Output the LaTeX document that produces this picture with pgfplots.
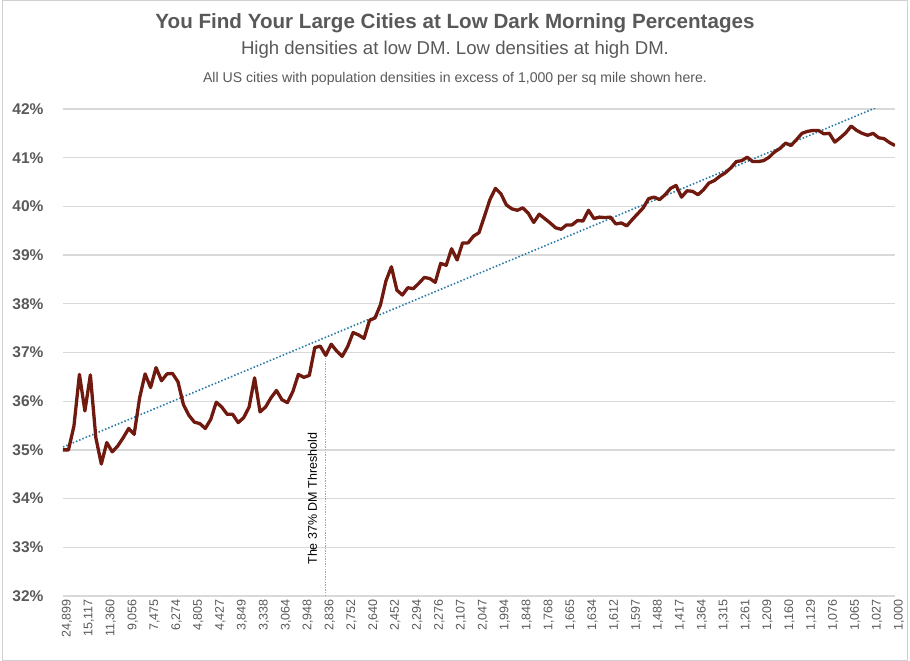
\documentclass[border=0pt]{standalone}
\usepackage{fontspec}
\setmainfont{Liberation Sans}
\usepackage{pgfplots}
\usepackage{pgfplotstable}
\pgfplotsset{compat=1.18}

\definecolor{txtgray}{HTML}{595959}
\definecolor{gridgray}{HTML}{D9D9D9}
\definecolor{dmred}{HTML}{70190F}
\definecolor{trendblue}{HTML}{2A7AA6}
\definecolor{framegray}{HTML}{D0D0D0}
\definecolor{threshgray}{HTML}{A6A6A6}

% dark-morning share by city density rank (densest first)
\pgfplotstableread{
idx val
0 35.00
1 35.00
2 35.49
3 36.55
4 35.80
5 36.54
6 35.25
7 34.71
8 35.15
9 34.96
10 35.08
11 35.25
12 35.44
13 35.32
14 36.07
15 36.56
16 36.28
17 36.69
18 36.42
19 36.56
20 36.57
21 36.40
22 35.93
23 35.71
24 35.57
25 35.54
26 35.44
27 35.63
28 35.98
29 35.88
30 35.73
31 35.73
32 35.56
33 35.66
34 35.88
35 36.48
36 35.78
37 35.88
38 36.07
39 36.22
40 36.03
41 35.97
42 36.20
43 36.55
44 36.49
45 36.53
46 37.10
47 37.13
48 36.94
49 37.17
50 37.03
51 36.92
52 37.12
53 37.41
54 37.36
55 37.29
56 37.66
57 37.71
58 37.98
59 38.47
60 38.76
61 38.28
62 38.18
63 38.33
64 38.31
65 38.42
66 38.54
67 38.52
68 38.44
69 38.83
70 38.79
71 39.13
72 38.90
73 39.25
74 39.25
75 39.39
76 39.46
77 39.80
78 40.14
79 40.37
80 40.26
81 40.03
82 39.95
83 39.92
84 39.97
85 39.86
86 39.67
87 39.84
88 39.75
89 39.66
90 39.56
91 39.53
92 39.62
93 39.62
94 39.71
95 39.70
96 39.92
97 39.75
98 39.78
99 39.77
100 39.78
101 39.64
102 39.66
103 39.60
104 39.73
105 39.85
106 39.97
107 40.16
108 40.19
109 40.14
110 40.24
111 40.37
112 40.43
113 40.19
114 40.32
115 40.31
116 40.24
117 40.34
118 40.48
119 40.53
120 40.62
121 40.69
122 40.79
123 40.92
124 40.94
125 41.01
126 40.92
127 40.92
128 40.94
129 41.01
130 41.12
131 41.19
132 41.30
133 41.25
134 41.37
135 41.50
136 41.54
137 41.56
138 41.56
139 41.49
140 41.50
141 41.32
142 41.41
143 41.51
144 41.65
145 41.56
146 41.50
147 41.46
148 41.50
149 41.41
150 41.39
151 41.31
152 41.25
}\dmdata

\begin{document}
\begin{tikzpicture}
\useasboundingbox (0pt,0pt) rectangle (910pt,661pt);
\draw[framegray, line width=1pt] (2.5pt,0.5pt) rectangle (907pt,660pt);

\node[text=txtgray, font=\bfseries\fontsize{20.6}{24}\selectfont] at (455pt,638pt)
  {You Find Your Large Cities at Low Dark Morning Percentages};
\node[text=txtgray, font=\fontsize{18.6}{22}\selectfont] at (455pt,611pt)
  {High densities at low DM. Low densities at high DM.};
\node[text=txtgray, font=\fontsize{14.1}{17}\selectfont] at (455pt,582pt)
  {All US cities with population densities in excess of 1,000 per sq mile shown here.};

\begin{axis}[
  at={(63pt,65pt)}, anchor=south west,
  scale only axis, width=832pt, height=487pt,
  xmin=0, xmax=152, ymin=32, ymax=42,
  axis line style={draw=none},
  major tick style={draw=none},
  ytick={32,33,...,42},
  ymajorgrids=true,
  grid style={gridgray, line width=1.3pt},
  /pgf/number format/assume math mode=true,
  yticklabel={\pgfmathprintnumber{\tick}\%},
  yticklabel style={text=txtgray, font=\bfseries\fontsize{15.5}{18}\selectfont, xshift=-16pt},
  xtick={0,4,...,152},
  xticklabels={{24,899},{15,117},{11,360},{9,056},{7,475},{6,274},{4,805},{4,427},{3,849},{3,338},{3,064},{2,948},{2,836},{2,752},{2,640},{2,452},{2,294},{2,276},{2,107},{2,047},{1,994},{1,848},{1,768},{1,665},{1,634},{1,612},{1,597},{1,488},{1,417},{1,364},{1,315},{1,261},{1,209},{1,160},{1,129},{1,076},{1,065},{1,027},{1,000}},
  xticklabel style={text=txtgray, font=\fontsize{12.5}{14}\selectfont, rotate=90, anchor=east, yshift=-4pt},
]
% threshold drop line
\addplot[threshgray, line width=1.3pt, dash pattern=on 1.3pt off 1.3pt] coordinates {(48,32) (48,36.94)};
\node[text=black, font=\fontsize{12.5}{14}\selectfont, rotate=90, anchor=south west, inner sep=1pt]
  at (axis cs:46.6,32.62) {The 37\% DM Threshold};
% linear trendline (R^2 = 0.9345)
\addplot[trendblue, line width=1.6pt, dash pattern=on 1.5pt off 2pt] coordinates {(0,35.06) (152,42.19)};
\node[text=txtgray, font=\fontsize{11}{13}\selectfont, anchor=south east, inner sep=1pt]
  at (axis cs:148.6,42) {R\textsuperscript{2} = 0.9345};
% main series
\addplot[dmred, line width=3.3pt, line join=round] table[x=idx, y=val] {\dmdata};
\end{axis}
\end{tikzpicture}
\end{document}
